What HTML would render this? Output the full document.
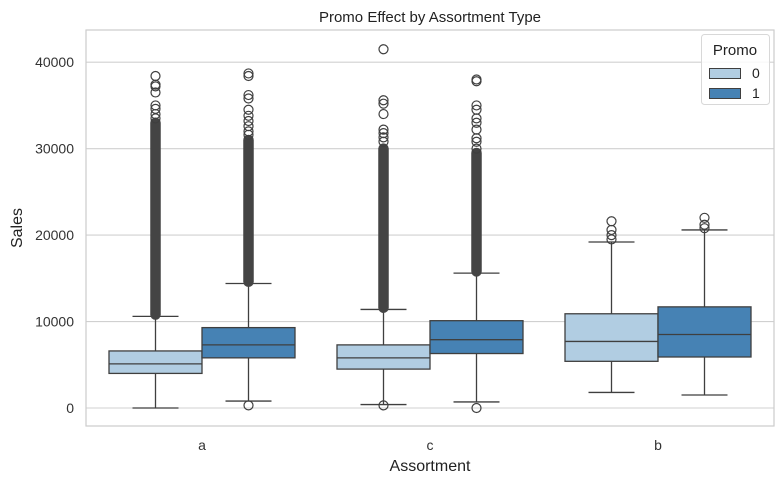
<!DOCTYPE html>
<html><head><meta charset="utf-8"><style>
body{margin:0;background:#fff;}
svg{display:block;font-family:"Liberation Sans","DejaVu Sans",sans-serif;}
</style></head><body>
<svg id="chart" width="784" height="484" viewBox="0 0 784 484">
<rect x="0" y="0" width="784" height="484" fill="#fff"/>
<g id="grid"></g>
<rect x="86" y="30" width="688" height="396" fill="none" stroke="#cccccc" stroke-width="1.2"/>
<g id="marks"></g>
<g id="axes"></g>
<text x="430" y="22" text-anchor="middle" font-size="15" fill="#222">Promo Effect by Assortment Type</text>
<text x="430" y="471" text-anchor="middle" font-size="16" fill="#222">Assortment</text>
<text x="22" y="228" text-anchor="middle" font-size="16" fill="#222" transform="rotate(-90 22 228)">Sales</text>
<g>
<rect x="701.5" y="34.5" width="68" height="70" rx="3" fill="#fff" fill-opacity="0.85" stroke="#d8d8d8"/>
<text x="735" y="55" text-anchor="middle" font-size="15" fill="#222">Promo</text>
<g><rect x="709.5" y="68.5" width="31" height="10" fill="#b1cde2" stroke="#3f3f3f"/><text x="752" y="78" font-size="14" fill="#222">0</text></g>
<g><rect x="709.5" y="88.5" width="31" height="10" fill="#4682b4" stroke="#3f3f3f"/><text x="752" y="98" font-size="14" fill="#222">1</text></g>
</g>
</svg>
<script>
const categories=["a","c","b"];
const promoLevels=["0","1"];
const yTicks=[0,10000,20000,30000,40000];
// per category, per promo: [whiskerLow, Q1, median, Q3, whiskerHigh]
const statsPromo0=[[0,4000,5100,6600,10600],[400,4500,5800,7300,11400],[1800,5400,7700,10900,19200]];
const statsPromo1=[[800,5800,7300,9300,14400],[700,6300,7900,10100,15600],[1500,5900,8500,11700,20600]];
// dense outlier bands [low, high] (null when none)
const denseBandPromo0=[[10800,33000],[11600,30000],null];
const denseBandPromo1=[[14600,31000],[15800,29500],null];
const outliersPromo0=[
[33500,34000,34600,35000,36500,37200,37400,38400],
[300,30800,31300,31800,32200,34000,35200,35600,41500],
[19500,20000,20600,21600]];
const outliersPromo1=[
[300,31600,32000,32600,33200,33800,34500,35800,36200,38400,38700],
[0,30000,30800,31200,32200,33000,33500,34500,35000,37800,38000],
[20800,21200,22000]];
const NS="http://www.w3.org/2000/svg";
const y=v=>408-v*0.008645;
const x=i=>202+i*228;
const mk=(t,a,p)=>{const e=document.createElementNS(NS,t);for(const k in a)e.setAttribute(k,a[k]);p.appendChild(e);return e;};
const grid=document.getElementById('grid'),axes=document.getElementById('axes'),marks=document.getElementById('marks');
yTicks.forEach(t=>{
 const g=mk('line',{x1:86,x2:774,y1:y(t),y2:y(t),stroke:'#d0d0d0','stroke-width':1.1},grid);
 
 
 const l=mk('text',{x:74,y:y(t)+5,'text-anchor':'end','font-size':14,fill:'#333'},axes);
 l.textContent=t;
 
 
});
categories.forEach((c,i)=>{
 const l=mk('text',{x:x(i),y:450,'text-anchor':'middle','font-size':14,fill:'#333'},axes);
 l.textContent=c;
 
 
});
const colors=['#b1cde2','#4682b4'];
const W=93;
[statsPromo0,statsPromo1].forEach((stats,p)=>{
 const outs=p===0?outliersPromo0:outliersPromo1;
 const bands=p===0?denseBandPromo0:denseBandPromo1;
 categories.forEach((c,i)=>{
  const cx=x(i)+(p===0?-46.5:46.5);
  const s=stats[i];
  const g=mk('g',{},marks);
  
  
  const st={stroke:'#3f3f3f','stroke-width':1.3};
  mk('line',Object.assign({x1:cx,x2:cx,y1:y(s[0]),y2:y(s[1])},st),g);
  mk('line',Object.assign({x1:cx,x2:cx,y1:y(s[3]),y2:y(s[4])},st),g);
  mk('line',Object.assign({x1:cx-23,x2:cx+23,y1:y(s[0]),y2:y(s[0])},st),g);
  mk('line',Object.assign({x1:cx-23,x2:cx+23,y1:y(s[4]),y2:y(s[4])},st),g);
  mk('rect',Object.assign({x:cx-W/2,y:y(s[3]),width:W,height:y(s[1])-y(s[3]),fill:colors[p]},st),g);
  mk('line',Object.assign({x1:cx-W/2,x2:cx+W/2,y1:y(s[2]),y2:y(s[2])},st),g);
  if(bands[i]){
   const b=mk('line',{x1:cx,x2:cx,y1:y(bands[i][0]),y2:y(bands[i][1]),stroke:'#444','stroke-width':10.5,'stroke-linecap':'round'},marks);
   
   
  }
  outs[i].forEach(v=>{
   const o=mk('circle',{cx:cx,cy:y(v),r:4.5,fill:'none',stroke:'#3f3f3f','stroke-width':1.2},marks);
   
   
  });
 });
});
</script>
</body></html>
